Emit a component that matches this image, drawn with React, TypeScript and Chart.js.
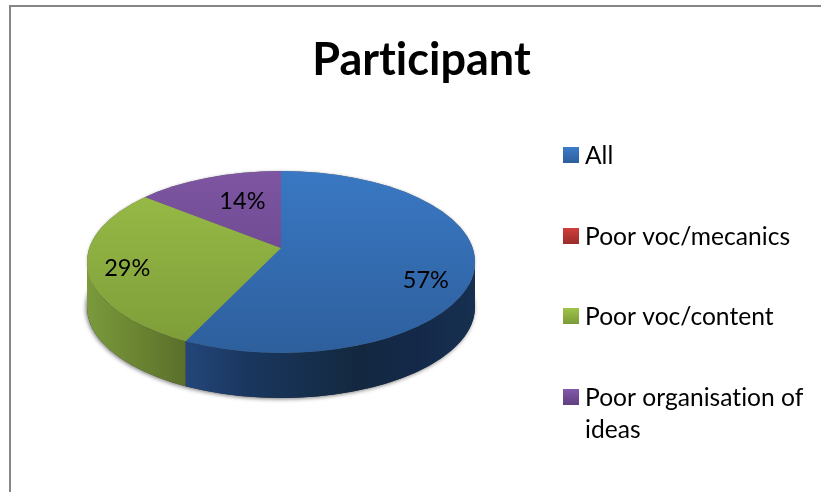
import React, { useEffect, useRef } from "react";
import { Chart, registerables } from "chart.js";

Chart.register(...registerables);

const titleText = "Participant";
const categories = ["All", "Poor voc/mecanics", "Poor voc/content", "Poor organisation of ideas"];
const values = [4, 0, 2, 1];

const topTones = [
  ["#3c7dcb", "#2d5e9b"],
  ["#d13f3b", "#9a2c2a"],
  ["#a0c44a", "#7b9a38"],
  ["#8359a8", "#5f3f80"],
];
const wallStops: Record<number, string[]> = {
  0: ["#23467a", "#1a3760", "#16304f", "#13283f", "#14294a", "#17304f"],
  2: ["#7a9a3c", "#6b8532", "#5a6f2a"],
};

const FONT = "Lato, Carlito, Calibri, sans-serif";
const ELLIPSE = { x: 281, y: 262, rx: 194, ry: 91, depth: 45 };
const APEX = { x: 281, y: 248, squash: 0.47, reach: 240 };
const LABEL_PLACE = [
  { r: 160, turn: 0.215 },
  null,
  { r: 160, turn: -0.055 },
  { r: 107, turn: 0.08 },
];
const LEGEND = { x: 563, box: 16, textX: 585, textDrop: 1, rows: [155, 236, 316, 397], leading: 32, size: 24.6 };
const VALUE_SIZE = 23.5;

function verticalGradient(ctx: CanvasRenderingContext2D, y0: number, y1: number, a: string, b: string) {
  const g = ctx.createLinearGradient(0, y0, 0, y1);
  g.addColorStop(0, a);
  g.addColorStop(1, b);
  return g;
}

function rimAngle(theta: number) {
  const dx = Math.cos(theta) / ELLIPSE.rx;
  const dy = (Math.sin(theta) * APEX.squash) / ELLIPSE.ry;
  const v0 = (APEX.y - ELLIPSE.y) / ELLIPSE.ry;
  const a = dx * dx + dy * dy;
  const b = 2 * dy * v0;
  const c = v0 * v0 - 1;
  const r = (-b + Math.sqrt(b * b - 4 * a * c)) / (2 * a);
  return Math.atan2(v0 + r * dy, r * dx);
}

function norm(t: number) {
  let a = t;
  while (a < -Math.PI / 2 - 1e-6) a += Math.PI * 2;
  while (a >= (3 * Math.PI) / 2 - 1e-6) a -= Math.PI * 2;
  return a;
}

const pie3d = {
  id: "pie3d",
  beforeDraw(chart: any) {
    // keeps "ti" from being drawn as a ligature
    chart.ctx.letterSpacing = "0.01px";
  },
  beforeDatasetDraw(chart: any) {
    const ctx: CanvasRenderingContext2D = chart.ctx;
    const { x, y, rx, ry, depth } = ELLIPSE;
    ctx.save();
    ctx.shadowColor = "rgba(0,0,0,0.55)";
    ctx.shadowBlur = 4;
    ctx.shadowOffsetX = -1;
    ctx.shadowOffsetY = 1;
    ctx.fillStyle = "#333";
    ctx.beginPath();
    ctx.ellipse(x, y + depth, rx, ry, 0, 0, Math.PI * 2);
    ctx.fill();
    ctx.restore();
    ctx.save();
    ctx.shadowColor = "rgba(0,0,0,0.25)";
    ctx.shadowBlur = 3;
    ctx.fillStyle = "#666";
    ctx.beginPath();
    ctx.ellipse(x, y, rx, ry, 0, 0, Math.PI * 2);
    ctx.fill();
    ctx.restore();

    chart.getDatasetMeta(0).data.forEach((arc: any, i: number) => {
      const stops = wallStops[i];
      if (!stops || arc.circumference === 0) return;
      const start = norm(rimAngle(arc.startAngle));
      let end = norm(rimAngle(arc.endAngle));
      if (end <= start) end += Math.PI * 2;
      const a = Math.max(start, 0);
      const b = Math.min(end, Math.PI);
      if (b <= a) return;
      const x0 = x + rx * Math.cos(a);
      const x1 = x + rx * Math.cos(b);
      const g = ctx.createLinearGradient(Math.min(x0, x1), 0, Math.max(x0, x1), 0);
      stops.forEach((c, n) => g.addColorStop(n / (stops.length - 1), c));
      ctx.fillStyle = g;
      ctx.beginPath();
      ctx.ellipse(x, y, rx, ry, 0, a, b);
      ctx.ellipse(x, y + depth, rx, ry, 0, b, a, true);
      ctx.closePath();
      ctx.fill();
    });

    const arc = chart.getDatasetMeta(0).data[0];
    const k = APEX.reach / arc.outerRadius;
    ctx.save();
    ctx.beginPath();
    ctx.ellipse(x, y, rx, ry, 0, 0, Math.PI * 2);
    ctx.clip();
    ctx.translate(APEX.x, APEX.y);
    ctx.scale(k, k * APEX.squash);
    ctx.translate(-arc.x, -arc.y);
  },
  afterDatasetDraw(chart: any) {
    chart.ctx.restore();
  },
  afterDatasetsDraw(chart: any) {
    const ctx: CanvasRenderingContext2D = chart.ctx;
    const total = values.reduce((s, v) => s + v, 0);
    ctx.save();
    ctx.fillStyle = "#000";
    ctx.font = `${VALUE_SIZE}px ${FONT}`;
    ctx.textAlign = "center";
    ctx.textBaseline = "middle";
    chart.getDatasetMeta(0).data.forEach((arc: any, i: number) => {
      const place = LABEL_PLACE[i];
      if (!place || values[i] === 0) return;
      const mid = (arc.startAngle + arc.endAngle) / 2 + place.turn;
      ctx.fillText(
        `${Math.round((values[i] / total) * 100)}%`,
        APEX.x + place.r * Math.cos(mid),
        APEX.y + place.r * APEX.squash * Math.sin(mid),
      );
    });

    ctx.font = `${LEGEND.size}px ${FONT}`;
    categories.forEach((label, i) => {
      const cy = LEGEND.rows[i];
      ctx.fillStyle = verticalGradient(ctx, cy - 8, cy + 8, topTones[i][0], topTones[i][1]);
      ctx.fillRect(LEGEND.x, cy - 8, LEGEND.box, LEGEND.box);
      ctx.fillStyle = "#000";
      ctx.textAlign = "left";
      const lines: string[] = [];
      let line = "";
      label.split(" ").forEach((word) => {
        const next = line ? `${line} ${word}` : word;
        if (ctx.measureText(next).width > chart.width - LEGEND.textX - 8 && line) {
          lines.push(line);
          line = word;
        } else line = next;
      });
      lines.push(line);
      lines.forEach((t, n) => ctx.fillText(t, LEGEND.textX, cy + LEGEND.textDrop + n * LEGEND.leading));
    });

    ctx.fillStyle = "#868686";
    ctx.fillRect(9, 5, chart.width - 9, 2);
    ctx.fillRect(9, 5, 2, chart.height - 5);
    ctx.restore();
  },
};

export default function App() {
  const ref = useRef<HTMLCanvasElement>(null);
  useEffect(() => {
    document.body.style.margin = "0";
    const chart = new Chart(ref.current!, {
      type: "pie",
      data: {
        labels: categories,
        datasets: [
          {
            data: values,
            borderWidth: 0,
            backgroundColor: (c: any) =>
              verticalGradient(
                c.chart.ctx,
                c.chart.chartArea?.top ?? 0,
                c.chart.chartArea?.bottom ?? 492,
                topTones[c.dataIndex][0],
                topTones[c.dataIndex][1],
              ),
          },
        ],
      },
      options: {
        animation: false,
        responsive: false,
        layout: { padding: { left: 22, top: 33 } },
        plugins: {
          legend: { display: false },
          tooltip: { enabled: false },
          title: {
            display: true,
            text: titleText,
            color: "#000",
            padding: 0,
            font: { family: FONT, size: 45, weight: "bold" },
          },
        },
      },
      plugins: [pie3d],
    });
    return () => chart.destroy();
  }, []);
  return <canvas ref={ref} width={821} height={492} style={{ display: "block" }} />;
}
